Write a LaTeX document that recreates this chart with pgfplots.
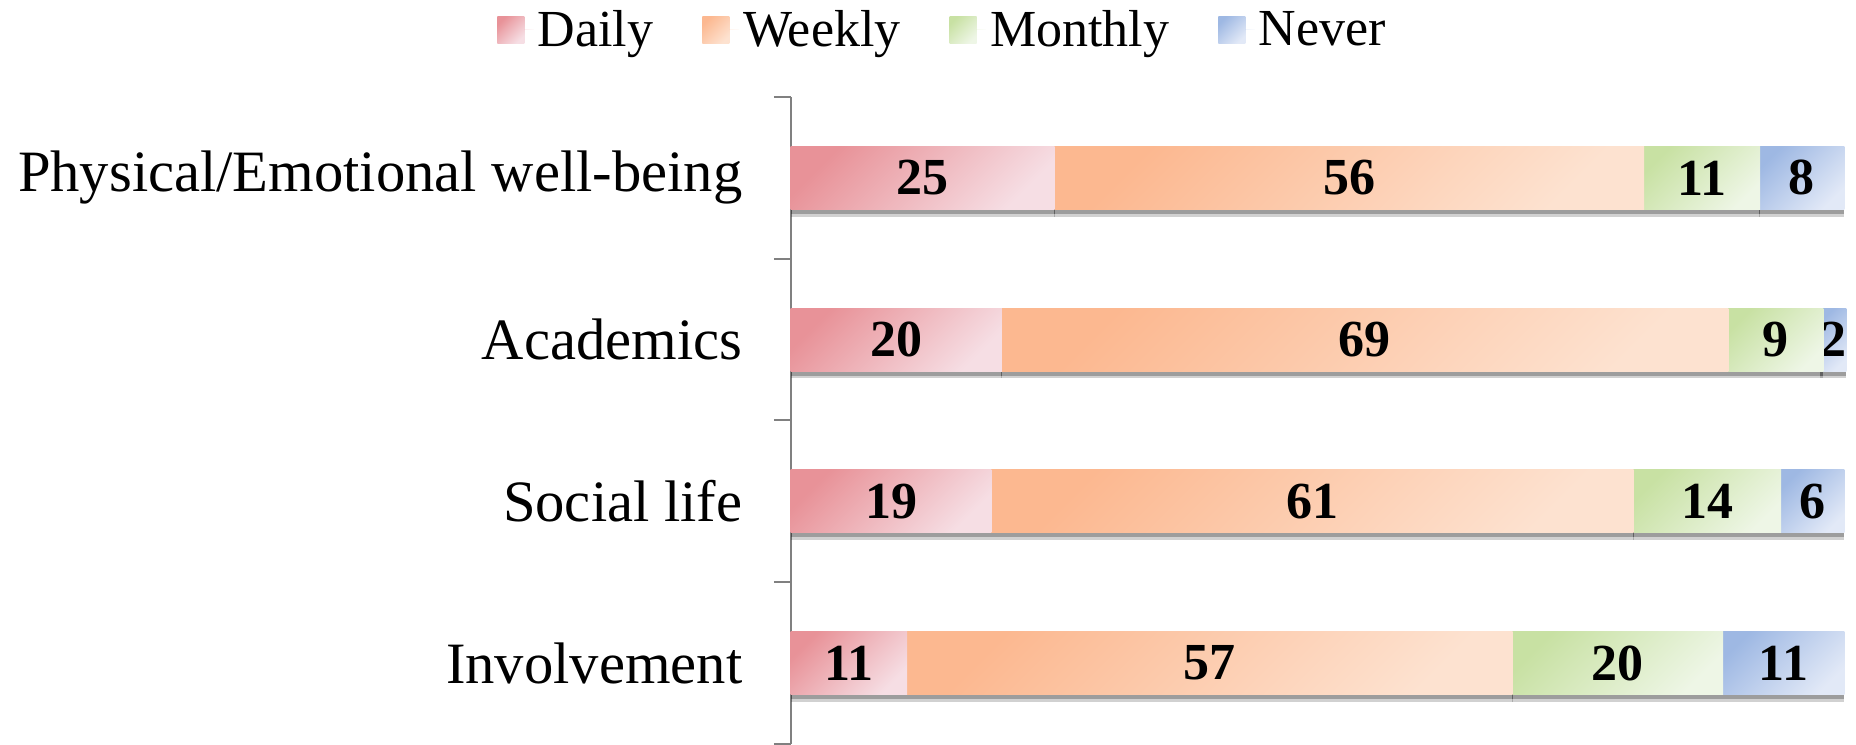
\documentclass[border=0pt]{standalone}
\usepackage{pgfplots}
\pgfplotsset{compat=1.18}
\usepackage{fontspec}
\setmainfont{Liberation Serif}
\usetikzlibrary{shadows}
\newcommand\tickf{\fontsize{29.3}{34}\selectfont}
\newcommand\legf{\fontsize{26}{31}\selectfont}
\definecolor{dA}{RGB}{232,146,152}
\definecolor{dB}{RGB}{246,222,228}
\definecolor{wA}{RGB}{252,184,144}
\definecolor{wB}{RGB}{253,226,208}
\definecolor{mA}{RGB}{200,225,163}
\definecolor{mB}{RGB}{238,246,230}
\definecolor{nA}{RGB}{158,184,227}
\definecolor{nB}{RGB}{226,233,247}
\pgfplotsset{seg/.style 2 args={fill=#1!50!#2,
  every node near coord/.append style={top color=#1, bottom color=#2, shading angle=45}}}
\begin{document}
\begin{tikzpicture}
\begin{axis}[
  name=ax,
  scale only axis,
  width=526.5pt, height=323.5pt,
  xbar stacked,
  bar width=0.39,
  xmin=0, xmax=100,
  ymin=-0.5, ymax=3.5,
  hide x axis,
  axis y line*=left,
  y axis line style={draw=gray, line width=1pt},
  ytick={0,1,2,3},
  yticklabels={Involvement, Social life, Academics, Physical/Emotional well-being},
  minor ytick={-0.5,0.5,1.5,2.5,3.5},
  major tick length=0pt,
  minor tick length=8.5pt,
  tick align=outside,
  minor tick style={draw=gray, line width=1pt},
  yticklabel style={font=\tickf, xshift=-20.8pt},
  point meta=explicit symbolic,
  visualization depends on={rawx \as \rawx},
  nodes near coords={\pgfplotspointmeta},
  every node near coord/.append style={font=\legf\bfseries, anchor=center, inner sep=0pt,
    minimum width={5.265pt*\rawx+0.3pt}, minimum height=31.5pt,
    drop shadow={shadow xshift=0pt, shadow yshift=-3.6pt, opacity=0.18, fill=black},
    drop shadow={shadow xshift=0pt, shadow yshift=-2.2pt, opacity=0.25, fill=black}},
  legend style={at={(-0.285,1.1036)}, anchor=west, draw=none, fill=none, font=\legf,
    /tikz/every even column/.append style={column sep=22.5pt}},
  legend columns=4,
  legend image code/.code={\path[#1] (0pt,-6.75pt) rectangle (13.5pt,6.75pt); \path (13.5pt,0pt) -- (18.3pt,0pt);},
  every axis plot/.append style={draw=none},
]
\addlegendimage{top color=dA, bottom color=dB, shading angle=45}
\addlegendentry{Daily}
\addlegendimage{top color=wA, bottom color=wB, shading angle=45}
\addlegendentry{Weekly}
\addlegendimage{top color=mA, bottom color=mB, shading angle=45}
\addlegendentry{Monthly}
\addlegendimage{top color=nA, bottom color=nB, shading angle=45}
\addlegendentry{Never}
\addplot[forget plot, seg={dA}{dB}]
  coordinates {(11,0) [11] (19,1) [19] (20,2) [20] (25,3) [25]};
\addplot[forget plot, seg={wA}{wB}]
  coordinates {(57.5,0) [57] (61,1) [61] (69,2) [69] (56,3) [56]};
\addplot[forget plot, seg={mA}{mB}]
  coordinates {(20,0) [20] (14,1) [14] (9,2) [9] (11,3) [11]};
\addplot[forget plot, seg={nA}{nB}]
  coordinates {(11.5,0) [11] (6,1) [6] (2,2) [2] (8,3) [8]};
\end{axis}
\pgfresetboundingbox
\path[use as bounding box] (-395.5pt,0) rectangle (532.5pt,372pt);
\end{tikzpicture}
\end{document}
